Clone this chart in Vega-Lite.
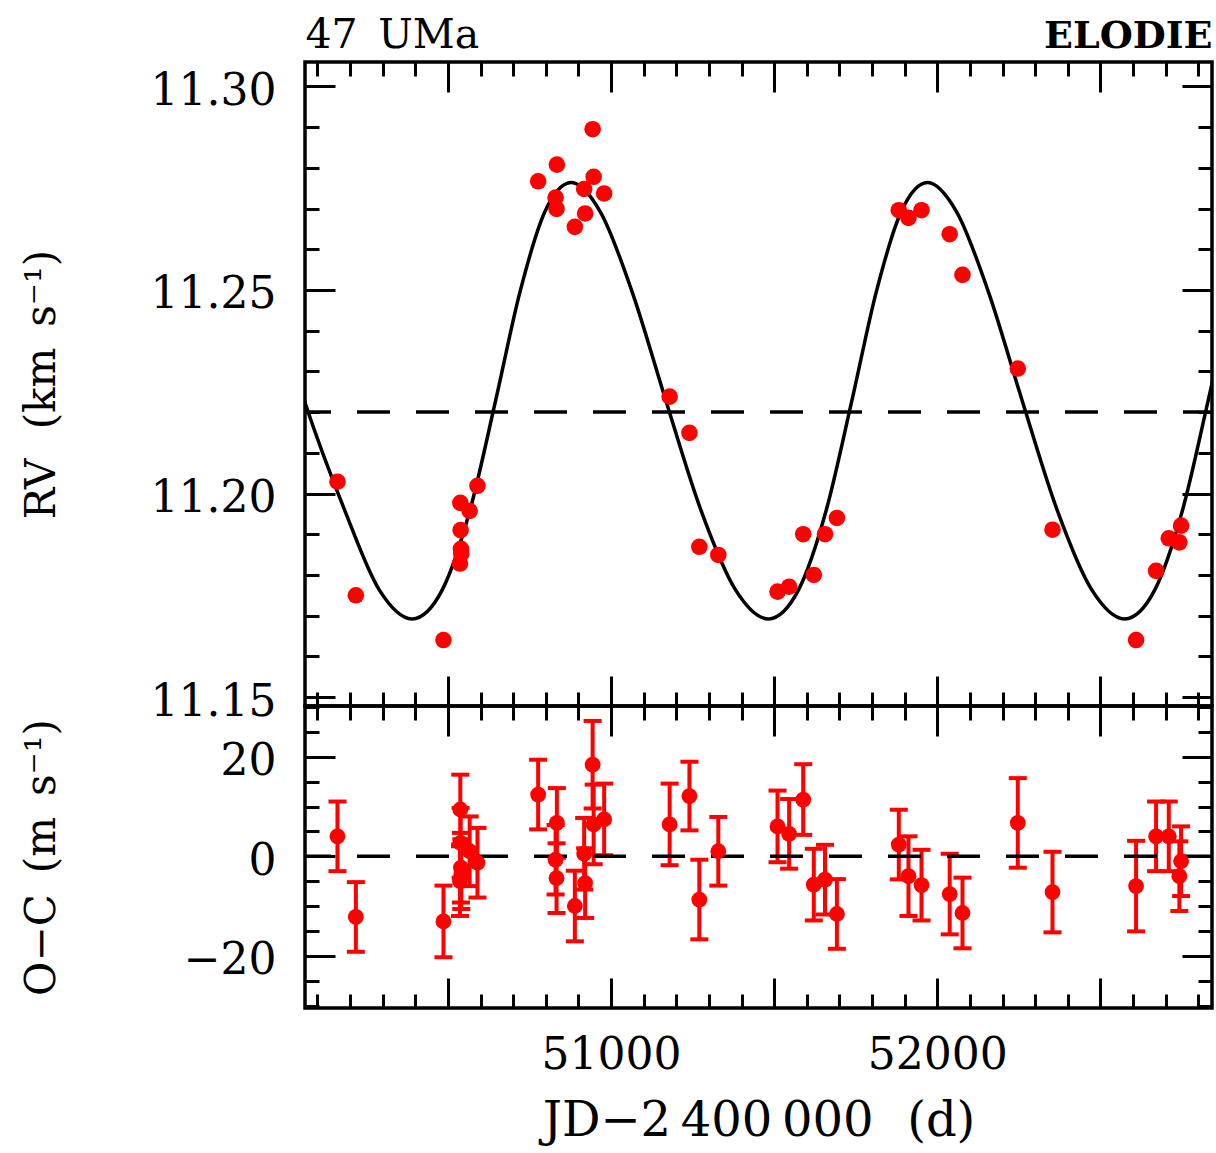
{
  "$schema": "https://vega.github.io/schema/vega-lite/v6.json",
  "background": "white",
  "padding": {"left": 18, "top": 12, "right": 2, "bottom": 5},
  "spacing": 0,
  "bounds": "flush",
  "config": {
    "font": "DejaVu Serif",
    "view": {"stroke": "black", "strokeWidth": 3.5},
    "axis": {"labelFont": "DejaVu Serif", "titleFont": "DejaVu Serif", "labelColor": "black", "titleColor": "black", "titleFontWeight": "normal", "labelFontWeight": "normal"},
    "title": {"font": "DejaVu Serif", "color": "black", "fontWeight": "normal"}
  },
  "datasets": {
    "curve": [
      {"jd": 49958.0, "rv": 11.2496}, {"jd": 50060.0, "rv": 11.2228}, {"jd": 50183.2, "rv": 11.1960}, {"jd": 50289.1, "rv": 11.1764},
      {"jd": 50390.0, "rv": 11.1692}, {"jd": 50483.1, "rv": 11.1764}, {"jd": 50568.0, "rv": 11.1960}, {"jd": 50646.2, "rv": 11.2228},
      {"jd": 50721.2, "rv": 11.2496}, {"jd": 50797.2, "rv": 11.2692}, {"jd": 50878.4, "rv": 11.2764}, {"jd": 50967.2, "rv": 11.2692},
      {"jd": 51064.4, "rv": 11.2496}, {"jd": 51168.2, "rv": 11.2228}, {"jd": 51275.2, "rv": 11.1960}, {"jd": 51381.1, "rv": 11.1764},
      {"jd": 51482.0, "rv": 11.1692}, {"jd": 51575.1, "rv": 11.1764}, {"jd": 51660.0, "rv": 11.1960}, {"jd": 51738.2, "rv": 11.2228},
      {"jd": 51813.2, "rv": 11.2496}, {"jd": 51889.2, "rv": 11.2692}, {"jd": 51970.4, "rv": 11.2764}, {"jd": 52059.2, "rv": 11.2692},
      {"jd": 52156.4, "rv": 11.2496}, {"jd": 52260.2, "rv": 11.2228}, {"jd": 52367.2, "rv": 11.1960}, {"jd": 52473.1, "rv": 11.1764},
      {"jd": 52574.0, "rv": 11.1692}, {"jd": 52667.1, "rv": 11.1764}, {"jd": 52752.0, "rv": 11.1960}, {"jd": 52830.2, "rv": 11.2228},
      {"jd": 52905.2, "rv": 11.2496}
    ],
    "obs": [
      {"jd": 50161.5, "rv": 11.2029, "oc": 4.0, "err": 7.0},
      {"jd": 50217.9, "rv": 11.1750, "oc": -12.2, "err": 7.0},
      {"jd": 50486.4, "rv": 11.1640, "oc": -13.1, "err": 7.2},
      {"jd": 50538.0, "rv": 11.1977, "oc": 9.4, "err": 7.0},
      {"jd": 50539.0, "rv": 11.1910, "oc": 2.7, "err": 7.0},
      {"jd": 50540.0, "rv": 11.1864, "oc": -2.3, "err": 7.0},
      {"jd": 50541.0, "rv": 11.1852, "oc": -3.6, "err": 7.0},
      {"jd": 50537.0, "rv": 11.1828, "oc": -5.0, "err": 7.0},
      {"jd": 50566.7, "rv": 11.1957, "oc": 1.0, "err": 7.0},
      {"jd": 50590.6, "rv": 11.2019, "oc": -1.3, "err": 7.0},
      {"jd": 50776.6, "rv": 11.2767, "oc": 12.4, "err": 7.0},
      {"jd": 50834.0, "rv": 11.2808, "oc": 6.7, "err": 7.0},
      {"jd": 50830.0, "rv": 11.2727, "oc": -0.7, "err": 7.0},
      {"jd": 50833.0, "rv": 11.2699, "oc": -4.4, "err": 7.0},
      {"jd": 50889.1, "rv": 11.2655, "oc": -10.0, "err": 7.1},
      {"jd": 50917.6, "rv": 11.2748, "oc": 0.5, "err": 7.2},
      {"jd": 50920.6, "rv": 11.2688, "oc": -5.4, "err": 7.0},
      {"jd": 50943.6, "rv": 11.2895, "oc": 18.4, "err": 8.8},
      {"jd": 50946.7, "rv": 11.2778, "oc": 6.4, "err": 8.0},
      {"jd": 50978.9, "rv": 11.2737, "oc": 7.4, "err": 7.2},
      {"jd": 51179.6, "rv": 11.2238, "oc": 6.4, "err": 8.2},
      {"jd": 51240.3, "rv": 11.2149, "oc": 12.1, "err": 6.9},
      {"jd": 51270.6, "rv": 11.1869, "oc": -8.7, "err": 8.0},
      {"jd": 51328.8, "rv": 11.1849, "oc": 1.0, "err": 6.9},
      {"jd": 51510.3, "rv": 11.1759, "oc": 6.0, "err": 7.2},
      {"jd": 51545.8, "rv": 11.1771, "oc": 4.5, "err": 7.0},
      {"jd": 51589.0, "rv": 11.1900, "oc": 11.4, "err": 7.1},
      {"jd": 51621.5, "rv": 11.1800, "oc": -5.7, "err": 7.2},
      {"jd": 51655.8, "rv": 11.1900, "oc": -4.7, "err": 7.0},
      {"jd": 51692.3, "rv": 11.1940, "oc": -11.6, "err": 7.0},
      {"jd": 51882.0, "rv": 11.2696, "oc": 2.35, "err": 7.0},
      {"jd": 51911.7, "rv": 11.2677, "oc": -4.0, "err": 8.0},
      {"jd": 51951.6, "rv": 11.2696, "oc": -5.8, "err": 7.1},
      {"jd": 52038.0, "rv": 11.2637, "oc": -7.6, "err": 8.1},
      {"jd": 52077.2, "rv": 11.2537, "oc": -11.4, "err": 7.1},
      {"jd": 52246.7, "rv": 11.2307, "oc": 6.7, "err": 9.0},
      {"jd": 52353.1, "rv": 11.1911, "oc": -7.2, "err": 8.1},
      {"jd": 52609.3, "rv": 11.1640, "oc": -6.0, "err": 9.1},
      {"jd": 52670.6, "rv": 11.1810, "oc": 4.0, "err": 7.0},
      {"jd": 52709.5, "rv": 11.1890, "oc": 4.0, "err": 7.0},
      {"jd": 52741.9, "rv": 11.1880, "oc": -4.0, "err": 7.0},
      {"jd": 52747.2, "rv": 11.1921, "oc": -1.0, "err": 7.0}
    ]
  },
  "vconcat": [
    {
      "width": 907,
      "height": 644,
      "resolve": {"axis": {"x": "independent", "y": "independent"}},
      "layer": [
        {
          "data": {"values": [{}]},
          "mark": {"type": "rule", "color": "black", "strokeWidth": 3.5, "strokeDash": [33, 26], "strokeDashOffset": 4},
          "encoding": {"y": {"datum": 11.22, "type": "quantitative", "scale": {"domain": [11.1478, 11.306], "nice": false, "zero": false}, "axis": null}}
        },
        {
          "data": {"name": "curve"},
          "mark": {"type": "line", "color": "black", "strokeWidth": 3.5, "interpolate": "monotone", "clip": true},
          "encoding": {
            "x": {"field": "jd", "type": "quantitative", "scale": {"domain": [50062, 52842], "nice": false, "zero": false},
              "axis": {"orient": "bottom", "values": [50100,50200,50300,50400,50500,50600,50700,50800,50900,51000,51100,51200,51300,51400,51500,51600,51700,51800,51900,52000,52100,52200,52300,52400,52500,52600,52700,52800],
                "labels": false, "ticks": false, "domain": false,
                "grid": true, "gridColor": "black", "gridOpacity": 1, "gridWidth": 3,
                "gridDash": {"condition": {"test": "datum.value % 500 === 0", "value": [30, 3000]}, "value": [14, 3000]},
                "title": "47\u2002UMa", "titleFontSize": 41, "titleX": 0, "titleY": -659, "titleAlign": "left", "titleBaseline": "alphabetic", "titleAngle": 0}},
            "y": {"field": "rv", "type": "quantitative", "scale": {"domain": [11.1478, 11.306], "nice": false, "zero": false},
              "axis": {"orient": "left", "values": [11.15,11.16,11.17,11.18,11.19,11.2,11.21,11.22,11.23,11.24,11.25,11.26,11.27,11.28,11.29,11.3],
                "labelExpr": "round(datum.value*1000) % 50 === 0 ? format(datum.value, '.2f') : ''",
                "labelFontSize": 44, "labelPadding": 29, "labelOffset": 5, "labelOverlap": false, "labelFlush": false,
                "ticks": false, "domain": false,
                "grid": true, "gridColor": "black", "gridOpacity": 1, "gridWidth": 3,
                "gridDash": {"condition": {"test": "round(datum.value*1000) % 50 === 0", "value": [30, 3000]}, "value": [14, 3000]},
                "title": "RV\u2002\u2009(km\u2002s\u207b\u00b9)", "titleFontSize": 42, "titleX": -251, "titleY": 322, "titleAngle": -90, "titleBaseline": "alphabetic", "titleAlign": "center"}}
          }
        },
        {
          "data": {"name": "obs"},
          "mark": {"type": "circle", "size": 275, "color": "#ff0000", "opacity": 1},
          "encoding": {
            "x": {"field": "jd", "type": "quantitative", "scale": {"domain": [50062, 52842], "nice": false, "zero": false},
              "axis": {"orient": "top", "values": [50100,50200,50300,50400,50500,50600,50700,50800,50900,51000,51100,51200,51300,51400,51500,51600,51700,51800,51900,52000,52100,52200,52300,52400,52500,52600,52700,52800],
                "labels": false, "ticks": false, "domain": false,
                "grid": true, "gridColor": "black", "gridOpacity": 1, "gridWidth": 3,
                "gridDash": {"condition": {"test": "datum.value % 500 === 0", "value": [30, 3000]}, "value": [14, 3000]},
                "title": "ELODIE", "titleFontSize": 38, "titleFontWeight": "bold", "titleX": 907, "titleY": -15, "titleAlign": "right", "titleBaseline": "alphabetic", "titleAngle": 0}},
            "y": {"field": "rv", "type": "quantitative", "scale": {"domain": [11.1478, 11.306], "nice": false, "zero": false},
              "axis": {"orient": "right", "values": [11.15,11.16,11.17,11.18,11.19,11.2,11.21,11.22,11.23,11.24,11.25,11.26,11.27,11.28,11.29,11.3],
                "labels": false, "ticks": false, "domain": false, "title": null,
                "grid": true, "gridColor": "black", "gridOpacity": 1, "gridWidth": 3,
                "gridDash": {"condition": {"test": "round(datum.value*1000) % 50 === 0", "value": [30, 3000]}, "value": [14, 3000]}}}
          }
        }
      ]
    },
    {
      "width": 907,
      "height": 302,
      "resolve": {"axis": {"x": "independent", "y": "independent"}},
      "layer": [
        {
          "data": {"name": "obs"},
          "mark": {"type": "errorbar", "color": "#ff0000", "opacity": 1, "ticks": {"size": 18, "thickness": 4, "color": "#ff0000", "opacity": 1}, "rule": {"strokeWidth": 4, "color": "#ff0000", "opacity": 1}},
          "encoding": {
            "x": {"field": "jd", "type": "quantitative", "scale": {"domain": [50062, 52842], "nice": false, "zero": false},
              "axis": {"orient": "bottom", "values": [50100,50200,50300,50400,50500,50600,50700,50800,50900,51000,51100,51200,51300,51400,51500,51600,51700,51800,51900,52000,52100,52200,52300,52400,52500,52600,52700,52800],
                "labelExpr": "datum.value % 1000 === 0 ? format(datum.value, 'd') : ''",
                "labelFontSize": 44, "labelPadding": 25, "labelOverlap": false, "labelFlush": false,
                "ticks": false, "domain": false,
                "grid": true, "gridColor": "black", "gridOpacity": 1, "gridWidth": 3,
                "gridDash": {"condition": {"test": "datum.value % 500 === 0", "value": [30, 3000]}, "value": [14, 3000]},
                "title": "JD\u22122\u2009400\u2009000\u2002\u2009(d)", "titleFontSize": 48, "titleX": 453.5, "titleY": 127, "titleAlign": "center", "titleBaseline": "alphabetic", "titleAngle": 0}},
            "y": {"field": "oc", "type": "quantitative", "scale": {"domain": [-30.5, 30.2], "nice": false, "zero": false},
              "axis": {"orient": "left", "values": [-30,-25,-20,-15,-10,-5,0,5,10,15,20,25,30],
                "labelExpr": "datum.value % 20 === 0 ? format(datum.value, 'd') : ''",
                "labelFontSize": 44, "labelPadding": 29, "labelOffset": 5, "labelOverlap": false, "labelFlush": false,
                "ticks": false, "domain": false,
                "grid": true, "gridColor": "black", "gridOpacity": 1, "gridWidth": 3,
                "gridDash": {"condition": {"test": "datum.value % 20 === 0", "value": [30, 3000]}, "value": [14, 3000]},
                "title": "O\u2212C\u2002(m\u2002s\u207b\u00b9)", "titleFontSize": 42, "titleX": -251, "titleY": 151, "titleAngle": -90, "titleBaseline": "alphabetic", "titleAlign": "center"}},
            "yError": {"field": "err"}
          }
        },
        {
          "data": {"values": [{}]},
          "mark": {"type": "rule", "color": "black", "strokeWidth": 3.5, "strokeDash": [33, 26], "strokeDashOffset": 4},
          "encoding": {"y": {"datum": 0, "type": "quantitative", "scale": {"domain": [-30.5, 30.2], "nice": false, "zero": false}, "axis": null}}
        },
        {
          "data": {"name": "obs"},
          "mark": {"type": "circle", "size": 250, "color": "#ff0000", "opacity": 1},
          "encoding": {
            "x": {"field": "jd", "type": "quantitative", "scale": {"domain": [50062, 52842], "nice": false, "zero": false},
              "axis": {"orient": "top", "values": [50100,50200,50300,50400,50500,50600,50700,50800,50900,51000,51100,51200,51300,51400,51500,51600,51700,51800,51900,52000,52100,52200,52300,52400,52500,52600,52700,52800],
                "labels": false, "ticks": false, "domain": false, "title": null,
                "grid": true, "gridColor": "black", "gridOpacity": 1, "gridWidth": 3,
                "gridDash": {"condition": {"test": "datum.value % 500 === 0", "value": [30, 3000]}, "value": [14, 3000]}}},
            "y": {"field": "oc", "type": "quantitative", "scale": {"domain": [-30.5, 30.2], "nice": false, "zero": false},
              "axis": {"orient": "right", "values": [-30,-25,-20,-15,-10,-5,0,5,10,15,20,25,30],
                "labels": false, "ticks": false, "domain": false, "title": null,
                "grid": true, "gridColor": "black", "gridOpacity": 1, "gridWidth": 3,
                "gridDash": {"condition": {"test": "datum.value % 20 === 0", "value": [30, 3000]}, "value": [14, 3000]}}}
          }
        }
      ]
    }
  ]
}
